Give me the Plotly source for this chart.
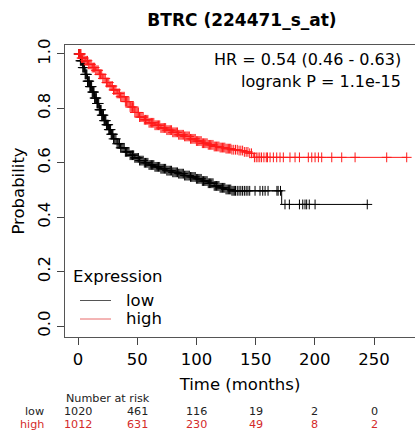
import numpy as np
import plotly.graph_objects as go

# ---- data ----
low_t = [0, 2, 4, 6, 8, 10, 12, 14, 16, 18, 20, 22, 24, 26, 28, 30, 33, 36, 40, 44, 48, 52, 56, 60,
         65, 70, 75, 80, 85, 90, 95, 100, 105, 110, 115, 120, 125, 130, 172, 244.3]
low_s = [1.0, 0.975, 0.95, 0.925, 0.90, 0.88, 0.86, 0.838, 0.818, 0.795, 0.775, 0.755, 0.74, 0.722,
         0.705, 0.688, 0.67, 0.655, 0.64, 0.628, 0.618, 0.608, 0.60, 0.592, 0.585, 0.578, 0.571,
         0.565, 0.56, 0.553, 0.548, 0.541, 0.533, 0.525, 0.515, 0.508, 0.502, 0.497, 0.447, 0.447]

high_t = [0, 3, 6, 9, 12, 15, 18, 21, 24, 27, 30, 33, 36, 40, 44, 48, 52, 56, 60, 65, 70, 75, 80,
          85, 90, 95, 100, 105, 110, 115, 120, 125, 130, 135, 140, 145, 148, 277.6]
high_s = [1.0, 0.985, 0.975, 0.962, 0.95, 0.94, 0.925, 0.91, 0.895, 0.882, 0.868, 0.855, 0.843,
          0.825, 0.805, 0.785, 0.768, 0.758, 0.747, 0.738, 0.728, 0.72, 0.712, 0.703, 0.697, 0.688,
          0.68, 0.672, 0.666, 0.66, 0.656, 0.652, 0.648, 0.645, 0.64, 0.635, 0.62, 0.62]

low_censor = [0.5, 1, 1.5, 2, 2.5, 3, 3.5, 4, 4.5, 5, 5.5, 6, 6.5, 7, 7.5, 8, 8.5, 9, 9.5, 10,
              10.5, 11, 11.5, 12, 12.5, 13, 13.5, 14, 14.5, 15, 15.5, 16, 16.5, 17, 17.5, 18,
              18.5, 19, 19.5, 20, 20.5, 21, 21.5, 22, 22.5, 23, 23.5, 24, 24.5, 25, 25.5, 26,
              26.5, 27, 27.5, 28, 28.5, 29, 29.5, 30, 31, 32, 33, 34, 35, 36, 37, 38, 39, 40,
              41, 42, 43, 44, 45, 46, 47, 48, 49, 50, 51, 52, 53, 54, 55, 56, 57, 58, 59, 60,
              61, 62, 63, 64, 65, 66, 67, 68, 69, 70, 71, 72, 73, 74, 75, 76, 77, 78, 79, 80,
              81, 82, 83, 84, 85, 86, 87, 88, 89, 90, 91, 92, 93, 94, 95, 96, 97, 98, 99, 100,
              101, 102, 103, 104, 105, 106, 107, 108, 109, 110, 111, 112, 113, 114, 115, 116,
              117, 118, 119, 120, 121, 122, 123, 124, 125, 126, 127, 128, 129, 130, 131, 132,
              133, 134.5, 136, 137.5, 139, 140.5, 142, 143.5, 145, 149.5, 153.7, 156, 158,
              160.5, 168, 169, 171, 174.8, 178.5, 187, 189.8, 191.7, 193.1, 195.3, 200.2, 244.3]
high_censor = [0.5, 1, 1.5, 2, 2.5, 3, 3.5, 4, 5, 6, 7, 8, 9, 10, 11, 12, 13, 14, 15, 16, 17, 18,
               19, 20, 21, 22, 23, 24, 25, 26, 27, 28, 29, 30, 31, 32, 33, 34, 35, 36, 37, 38, 39,
               40, 41, 42, 43, 44, 45, 46, 47, 48, 49, 50, 51, 52, 53, 54, 55, 56, 57, 58, 59, 60,
               61, 62, 63, 64, 65, 66, 67, 68, 69, 70, 71, 72, 73, 74, 75, 76, 77, 78, 79, 80,
               81, 82, 83, 84, 85, 86, 87, 88, 89, 90, 91, 92, 93, 94, 95, 96, 97, 98, 99, 100,
               101, 102, 103, 104, 105, 106, 107, 108, 109, 110, 111, 112, 113, 114, 115, 116,
               117, 118, 119, 120, 121, 122, 123, 124, 125, 126, 127, 128, 129, 130, 131.5, 133,
               134.5, 136, 137.5, 139, 140.5, 142, 143.5, 145, 146.5, 149, 150.5, 152, 153.5,
               155, 157, 159, 160, 162.2, 165, 167.8, 170.6, 173.4, 179, 183.3, 187, 194.5, 197.4,
               200.2, 203, 205.8, 214.3, 222.7, 234, 260.7, 277.6]

risk_times = [0, 50, 100, 150, 200, 250]
risk_low = [1020, 461, 116, 19, 2, 0]
risk_high = [1012, 631, 230, 49, 8, 2]

group_names = ["low", "high"]
title_text = "BTRC (224471_s_at)"
hr_text = "HR = 0.54 (0.46 - 0.63)"
p_text = "logrank P = 1.1e-15"

LOW_COL = "black"
HIGH_COL = "#ff1a1a"
RISK_HIGH_COL = "#d42a2a"
FONT = "DejaVu Sans"


def step_at(ts, ss, q):
    ts = np.asarray(ts)
    ss = np.asarray(ss)
    idx = np.searchsorted(ts, np.asarray(q), side="right") - 1
    return ss[np.clip(idx, 0, len(ss) - 1)]


fig = go.Figure()
for t, s, c, col in [(low_t, low_s, low_censor, LOW_COL),
                     (high_t, high_s, high_censor, HIGH_COL)]:
    fig.add_trace(go.Scatter(x=t, y=s, mode="lines", line=dict(color=col, width=1, shape="hv"),
                             showlegend=False, hoverinfo="skip"))
    fig.add_trace(go.Scatter(x=c, y=step_at(t, s, c), mode="markers",
                             marker=dict(symbol="cross-thin", size=7, color=col,
                                         line=dict(color=col, width=1)),
                             showlegend=False, hoverinfo="skip"))

# plot area pixel geometry: l=65, r=415, t=45, b=337
PL, PR, PT, PB = 65, 415, 45, 337


def py(pix):
    return (PB - pix) / (PB - PT)


def px(pix):
    return (pix - PL) / (PR - PL)


def txt(text, x, y, size, color="black", xanchor="left", xref="paper"):
    return dict(text=text, xref=xref, yref="paper", x=x, y=y, xanchor=xanchor,
                yanchor="middle", showarrow=False,
                font=dict(size=size, color=color, family=FONT))


ann = [
    txt(hr_text, px(403), py(60), 16, xanchor="right"),
    txt(p_text, px(403), py(82), 16, xanchor="right"),
    # legend
    txt("Expression", px(71), py(276), 16.5),
    txt(group_names[0], px(124), py(300), 16.5),
    txt(group_names[1], px(124), py(318), 16.5),
    # number at risk table
    txt("Number at risk", px(64), py(398), 11.2, color="#222"),
    txt(group_names[0], px(46), py(411.5), 11.2, color="#222", xanchor="right"),
    txt(group_names[1], px(46), py(424), 11.2, color=RISK_HIGH_COL, xanchor="right"),
]
for tt, a, b in zip(risk_times, risk_low, risk_high):
    ann.append(txt(str(a), tt, py(411.5), 11.2, color="#222", xanchor="center", xref="x"))
    ann.append(txt(str(b), tt, py(424), 11.2, color=RISK_HIGH_COL, xanchor="center", xref="x"))

shapes = [
    dict(type="line", xref="paper", yref="paper", x0=px(80), x1=px(111), y0=py(300.5),
         y1=py(300.5), line=dict(color="#555", width=1)),
    dict(type="line", xref="paper", yref="paper", x0=px(80), x1=px(111), y0=py(319),
         y1=py(319), line=dict(color="#e86a6a", width=1)),
]

fig.update_layout(
    width=415, height=430,
    margin=dict(l=PL, r=415 - PR, t=PT, b=430 - PB),
    paper_bgcolor="white", plot_bgcolor="white",
    font=dict(family=FONT, color="black"),
    title=dict(text="<b>" + title_text + "</b>", x=px(242), xref="paper",
               y=1 - 20 / 430, yref="container", xanchor="center", yanchor="middle",
               font=dict(size=17, family=FONT, color="black")),
    xaxis=dict(range=[-11, 284.6], tickvals=risk_times, ticks="outside", ticklen=7,
               tickcolor="#444", showline=True, linecolor="#555", linewidth=1, mirror=True,
               showgrid=False, zeroline=False, tickfont=dict(size=16.5, family=FONT),
               title=dict(text="Time (months)", font=dict(size=16.5, family=FONT), standoff=10)),
    yaxis=dict(range=[-0.0403, 1.033], tickvals=[0, 0.2, 0.4, 0.6, 0.8, 1.0],
               ticktext=["0.0", "0.2", "0.4", "0.6", "0.8", "1.0"], tickangle=-90,
               ticks="outside", ticklen=7, tickcolor="#444", showline=True,
               linecolor="#555", linewidth=1, showgrid=False, zeroline=False,
               tickfont=dict(size=16.5, family=FONT),
               title=dict(text="Probability", font=dict(size=16.5, family=FONT), standoff=6)),
    annotations=ann,
    shapes=shapes,
    showlegend=False,
)

fig.write_html("out.html", config={"displayModeBar": False},
               post_script="document.body.style.margin='0';document.body.style.overflow='hidden';")
